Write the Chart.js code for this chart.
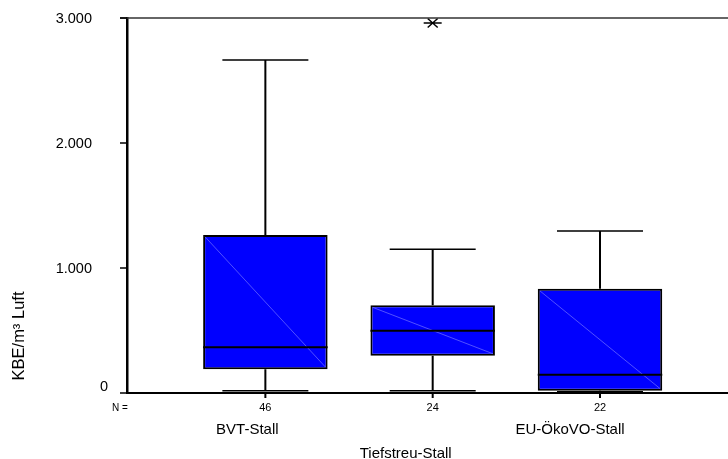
<!DOCTYPE html>
<html>
<head>
<meta charset="utf-8">
<script src="https://cdn.jsdelivr.net/npm/chart.js@4.4.1/dist/chart.umd.min.js"></script>
<style>
  html, body { margin: 0; padding: 0; background: #fff; }
  #box-chart { display: block; }
</style>
</head>
<body>
<canvas id="box-chart" width="728" height="459"></canvas>
<script>
// Values (KBE/m³ Luft)
const categories = ['BVT-Stall', 'Tiefstreu-Stall', 'EU-ÖkoVO-Stall'];
const caseCounts = [46, 24, 22];
const lowerWhisker = [18, 18, 10];
const lowerQuartile = [190, 298, 18];
const medians = [366, 498, 146];
const upperQuartile = [1265, 702, 834];
const upperWhisker = [2664, 1150, 1296];
const extremes = [[], [2960], []];
const yTicks = [0, 1000, 2000, 3000];

const FONT = "Arial, 'Liberation Sans', sans-serif";

const fmt = v => String(v).replace(/\B(?=(\d{3})+(?!\d))/g, '.');

// whiskers, medians, extremes and all the SPSS style texts
const boxExtras = {
  id: 'boxExtras',
  afterDraw(chart) {
    const { ctx, chartArea, scales: { x, y } } = chart;
    const meta = chart.getDatasetMeta(0);
    ctx.save();
    ctx.strokeStyle = '#000';
    ctx.lineCap = 'butt';

    meta.data.forEach((bar, i) => {
      const { x: cx, width } = bar.getProps(['x', 'width'], true);
      const left = cx - width / 2;
      const right = cx + width / 2;
      const top = y.getPixelForValue(upperQuartile[i]);
      const bottom = y.getPixelForValue(lowerQuartile[i]);

      // faint diagonal inside the box
      ctx.strokeStyle = '#6464ff';
      ctx.lineWidth = 0.8;
      ctx.beginPath();
      ctx.moveTo(left + 2, top + 2);
      ctx.lineTo(right - 2, bottom - 2);
      ctx.stroke();

      ctx.strokeStyle = '#000';
      ctx.lineWidth = 2;
      // median
      const my = y.getPixelForValue(medians[i]);
      ctx.beginPath();
      ctx.moveTo(left, my);
      ctx.lineTo(right, my);
      ctx.stroke();

      // whiskers
      const hi = y.getPixelForValue(upperWhisker[i]);
      const lo = y.getPixelForValue(lowerWhisker[i]);
      const capHalf = x.getPixelForValue(1.257) - x.getPixelForValue(1);
      ctx.beginPath();
      ctx.moveTo(cx, top);
      ctx.lineTo(cx, hi);
      ctx.moveTo(cx, bottom);
      ctx.lineTo(cx, lo);
      ctx.stroke();
      ctx.lineWidth = 1.5;
      ctx.beginPath();
      ctx.moveTo(cx - capHalf, hi);
      ctx.lineTo(cx + capHalf, hi);
      ctx.moveTo(cx - capHalf, lo);
      ctx.lineTo(cx + capHalf, lo);
      ctx.stroke();

      // extremes drawn as asterisks
      extremes[i].forEach(v => {
        const py = y.getPixelForValue(v);
        ctx.lineWidth = 1.5;
        ctx.beginPath();
        ctx.moveTo(cx - 9, py);
        ctx.lineTo(cx + 9, py);
        ctx.moveTo(cx - 5, py - 4.5);
        ctx.lineTo(cx + 5, py + 4.5);
        ctx.moveTo(cx - 5, py + 4.5);
        ctx.lineTo(cx + 5, py - 4.5);
        ctx.stroke();
      });
    });

    // top frame line at the max value
    ctx.strokeStyle = '#333';
    ctx.lineWidth = 1.5;
    const yTop = y.getPixelForValue(y.max);
    ctx.beginPath();
    ctx.moveTo(chartArea.left - 7, yTop);
    ctx.lineTo(chart.width, yTop);
    ctx.stroke();

    // y ticks + labels
    ctx.strokeStyle = '#000';
    ctx.fillStyle = '#000';
    ctx.font = '14.5px ' + FONT;
    ctx.textAlign = 'right';
    ctx.textBaseline = 'middle';
    yTicks.forEach(v => {
      const py = y.getPixelForValue(v);
      ctx.beginPath();
      ctx.moveTo(chartArea.left - 7, py);
      ctx.lineTo(chartArea.left, py);
      ctx.stroke();
      if (v === 0) {
        ctx.fillText(fmt(v), chartArea.left - 19, py - 6);
      } else {
        ctx.fillText(fmt(v), chartArea.left - 35, py + 1);
      }
    });

    // x ticks, N counts, category labels (staggered)
    const labelShift = [-18, -27, -30];
    ctx.textAlign = 'center';
    ctx.font = '10px ' + FONT;
    ctx.fillText('N =', chartArea.left - 7, chartArea.bottom + 15);
    categories.forEach((c, i) => {
      const px = x.getPixelForValue(i + 1);
      ctx.lineWidth = 2;
      ctx.beginPath();
      ctx.moveTo(px, chartArea.bottom);
      ctx.lineTo(px, chartArea.bottom + 5);
      ctx.stroke();
      ctx.font = '11px ' + FONT;
      ctx.fillText(String(caseCounts[i]), px, chartArea.bottom + 15);
      ctx.font = '15px ' + FONT;
      ctx.fillText(c, px + labelShift[i], chartArea.bottom + (i % 2 ? 61 : 37));
    });

    // y axis title
    ctx.save();
    ctx.translate(19, 336);
    ctx.rotate(-Math.PI / 2);
    ctx.font = '16.5px ' + FONT;
    ctx.fillText('KBE/m³ Luft', 0, 0);
    ctx.restore();

    ctx.restore();
  },
};

const ctx = document.getElementById('box-chart');

new Chart(ctx, {
  type: 'bar',
  data: {
    datasets: [
      {
        label: 'Quartile',
        data: categories.map((c, i) => ({ x: i + 1, y: [lowerQuartile[i], upperQuartile[i]] })),
        backgroundColor: '#0000ff',
        borderColor: '#000',
        borderWidth: 2,
        borderSkipped: false,
        categoryPercentage: 1,
        barPercentage: 0.744,
      },
    ],
  },
  options: {
    responsive: false,
    animation: false,
    devicePixelRatio: 1,
    layout: {
      padding: { top: 18, left: 0, right: 0, bottom: 0 },
    },
    plugins: {
      legend: { display: false },
      tooltip: { enabled: false },
    },
    scales: {
      x: {
        type: 'linear',
        offset: false,
        min: 0.173,
        max: 3.765,
        grid: { display: false, offset: false },
        ticks: { display: false },
        border: { display: true, color: '#000', width: 2 },
        afterBuildTicks: s => { s.ticks = categories.map((c, i) => ({ value: i + 1 })); },
        afterFit: s => { s.height = 66; },
      },
      y: {
        min: 0,
        max: 3000,
        grid: { display: false },
        ticks: { display: false },
        border: { display: true, color: '#000', width: 2.5 },
        afterFit: s => { s.width = 127; },
      },
    },
  },
  plugins: [boxExtras],
});
</script>
</body>
</html>
